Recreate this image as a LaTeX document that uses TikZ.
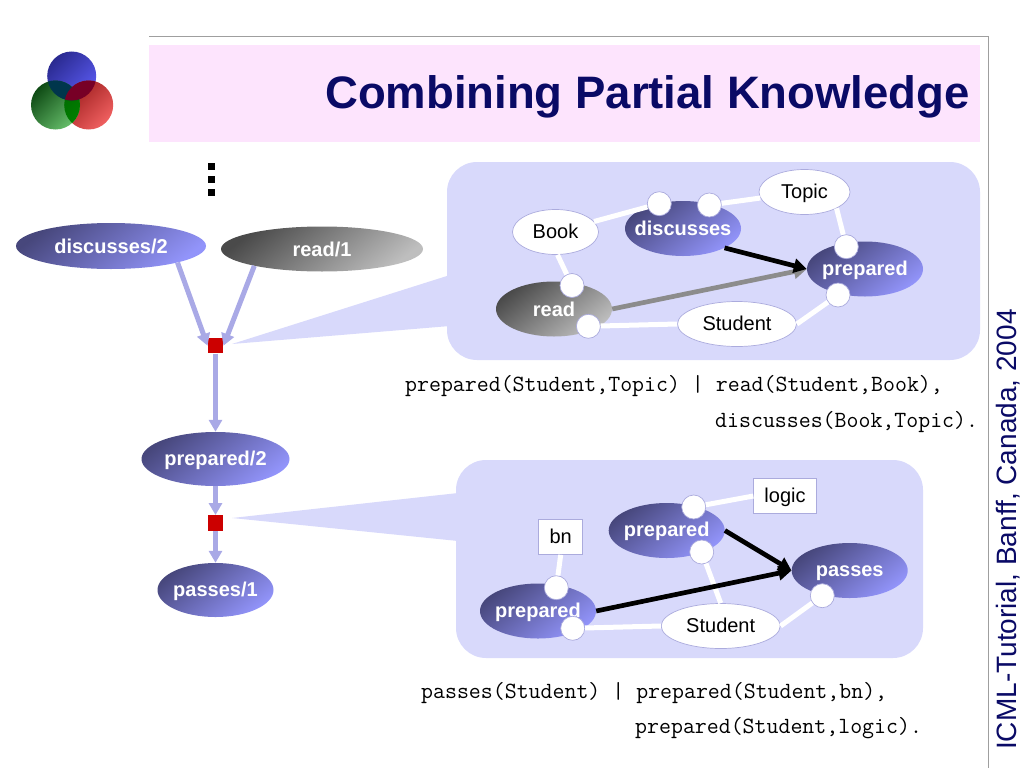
\documentclass[tikz,border=0pt]{standalone}
\usepackage{fontspec}
\setmainfont{Liberation Sans}
\usetikzlibrary{shapes.geometric,arrows.meta}
\definecolor{navytext}{HTML}{0A0A66}
\definecolor{pinkband}{HTML}{FDE4FD}
\definecolor{panelblue}{HTML}{D8D9FB}
\definecolor{edgeblue}{HTML}{A9A9E6}
\definecolor{outlineblue}{HTML}{ABABDD}
\definecolor{predark}{HTML}{47477C}
\definecolor{prelight}{HTML}{9294FA}
\definecolor{greydark}{HTML}{4A4A4A}
\definecolor{greylight}{HTML}{BEBEBE}
\definecolor{joinred}{HTML}{CC0000}
\definecolor{logoba}{HTML}{2A2A90}\definecolor{logobb}{HTML}{5A5AF0}
\definecolor{logora}{HTML}{9A1C1C}\definecolor{logorb}{HTML}{F06060}
\definecolor{logoga}{HTML}{0E4A14}\definecolor{logogb}{HTML}{66BE6A}
\newcommand{\zw}[1]{\makebox[0pt]{#1}}
\tikzset{
  lab/.style={font=\fontsize{20}{24}\selectfont,text height=14pt,text depth=2pt},
  pred/.style={ellipse,inner sep=0pt,shade,left color=predark,right color=prelight,shading angle=38,text=white,font=\fontsize{20}{24}\selectfont\bfseries,text height=14pt,text depth=2pt},
  gpred/.style={pred,left color=greydark,right color=greylight,shading angle=38},
  var/.style={ellipse,draw=outlineblue,line width=0.7pt,fill=white,inner sep=0pt,lab},
  const/.style={rectangle,draw=outlineblue,line width=0.7pt,fill=white,inner sep=0pt,minimum height=35pt,lab},
  port/.style={circle,draw=outlineblue,line width=0.7pt,fill=white,inner sep=0pt,minimum size=24pt},
  joinbox/.style={rectangle,fill=joinred,inner sep=0pt,minimum size=15.5pt},
  dotbox/.style={rectangle,fill=black,inner sep=0pt,minimum size=7pt},
  panel/.style={rectangle,rounded corners=30pt,fill=panelblue,inner sep=0pt},
  flow/.style={edgeblue,line width=5pt,-{Triangle[width=13pt,length=12pt]}},
  link/.style={white,line width=5pt},
  dep/.style={line width=4.7pt,-{Triangle[width=14pt,length=13pt]}},
  code/.style={anchor=base west,inner sep=0pt,font=\fontsize{23.2}{26}\selectfont\ttfamily},
  logo/.style={shading angle=45}
}
\begin{document}
\begin{tikzpicture}[x=1pt,y=-1pt]
  \useasboundingbox (0,0) rectangle (1024,768);
  % slide frame
  \fill[pinkband] (149,45) rectangle (980,142);
  \draw[gray!75,line width=1pt] (149,37) -- (988,37) -- (988,768);
  \node[anchor=base east,inner sep=0pt,text=navytext,font=\fontsize{45.5}{50}\selectfont\bfseries] (title) at (970,108.5) {Combining Partial Knowledge};
  \node[anchor=base west,rotate=90,inner sep=0pt,text=navytext,font=\fontsize{28}{32}\selectfont] (side) at (1016,750) {ICML-Tutorial, Banff, Canada, 2004};
  % logo
  \def\rad{24.5pt}
  \shade[left color=logoba,right color=logobb,logo] (71.7,76) circle (\rad);
  \shade[left color=logora,right color=logorb,logo] (88.7,105) circle (\rad);
  \shade[left color=logoga,right color=logogb,logo] (55.5,105) circle (\rad);
  \begin{scope}
    \clip (88.7,105) circle (\rad);
    \shade[left color=green!35!black,right color=green!50!black,logo] (55.5,105) circle (\rad);
  \end{scope}
  \begin{scope}
    \clip (71.7,76) circle (\rad);
    \fill[green!30!black!70!blue] (55.5,105) circle (\rad);
    \fill[red!55!black!85!blue] (88.7,105) circle (\rad);
  \end{scope}
  \foreach \i/\y in {1/166.5,2/179.5,3/192.5} {
    \node[dotbox] (dot\i) at (211.5,\y) {};
  }
  % callouts
  \fill[panelblue] (232,344) -- (450,275) -- (450,326) -- cycle;
  \fill[panelblue] (232,518) -- (458,493) -- (458,541) -- cycle;
  \node[panel,minimum width=533pt,minimum height=198pt] (panela) at (713.5,261) {};
  \node[panel,minimum width=467pt,minimum height=198pt] (panelb) at (689.5,559) {};
  % left graph
  \node[pred,text depth=0pt,minimum width=190pt,minimum height=46pt] (discusses) at (111,246) {\zw{discusses/2}};
  \node[gpred,text depth=0pt,minimum width=202pt,minimum height=45pt] (read) at (322,249) {\zw{read/1}};
  \node[joinbox] (joina) at (215.5,345.7) {};
  \node[pred,minimum width=148pt,minimum height=54pt] (prepared) at (215.5,459) {\zw{prepared/2}};
  \node[joinbox] (joinb) at (215.5,523) {};
  \node[pred,minimum width=116pt,minimum height=54pt] (passes) at (215.5,590) {\zw{passes/1}};
  \draw[flow] (discusses.-14.5) -- (joina.west);
  \draw[flow] (read.-166.5) -- (joina.east);
  \draw[flow] (joina.south) -- (prepared.north);
  \draw[flow] (prepared.south) -- (joinb.north);
  \draw[flow] (joinb.south) -- (passes.north);
  % upper clause
  \node[var,minimum width=86pt,minimum height=45pt] (book) at (555.5,232) {\zw{Book}};
  \node[var,minimum width=91pt,minimum height=45pt] (topic) at (804.5,192) {\zw{Topic}};
  \node[var,minimum width=119pt,minimum height=45pt] (student) at (737,324) {\zw{Student}};
  \node[pred,text depth=0pt,minimum width=116pt,minimum height=55pt] (disc) at (683,228.5) {\zw{discusses}};
  \node[pred,minimum width=116pt,minimum height=55pt] (prep) at (865,269) {\zw{prepared}};
  \node[gpred,text depth=0pt,minimum width=116pt,minimum height=55pt] (rd) at (554,309) {\zw{read}};
  \node[port] (discl) at (659.3,203.7) {};
  \node[port] (discr) at (709.4,205) {};
  \node[port] (prept) at (846.3,246.7) {};
  \node[port] (prepb) at (838,295) {};
  \node[port] (rdt) at (572,285.5) {};
  \node[port] (rdb) at (588.4,326.3) {};
  \draw[link] (book) -- (discl);
  \draw[link] (discr) -- (topic);
  \draw[link] (topic.-27) -- (prept);
  \draw[link] (book.-85) -- (rdt);
  \draw[link] (rdb) -- (student.west);
  \draw[link] (student.east) -- (prepb);
  \draw[dep,color=gray!90] (rd.east) -- (prep.west);
  \draw[dep] (disc.-25) -- (prep.west);
  \node[code] (codea) at (405,391) {prepared(Student,Topic) | read(Student,Book),};
  \node[code] (codeb) at (715,427) {discusses(Book,Topic).};
  % lower clause
  \node[const,minimum width=44pt] (bn) at (560.7,537) {\zw{bn}};
  \node[const,minimum width=62.6pt] (logic) at (785,496) {\zw{logic}};
  \node[var,minimum width=119pt,minimum height=45pt] (studentb) at (720.7,626) {\zw{Student}};
  \node[pred,minimum width=116pt,minimum height=55pt] (prepu) at (666.7,530.5) {\zw{prepared}};
  \node[pred,minimum width=116pt,minimum height=55pt] (prepl) at (538,611) {\zw{prepared}};
  \node[pred,minimum width=116pt,minimum height=55pt] (pass) at (849.7,570.5) {\zw{passes}};
  \node[port] (prepua) at (693.7,507) {};
  \node[port] (prepub) at (701.7,552) {};
  \node[port] (prepla) at (556.3,587.7) {};
  \node[port] (preplb) at (572.7,628.3) {};
  \node[port] (passa) at (822.3,595.7) {};
  \draw[link] (prepua) -- (logic.west);
  \draw[link] (prepub) -- (studentb.north);
  \draw[link] (bn.south) -- (prepla);
  \draw[link] (preplb) -- (studentb.west);
  \draw[link] (studentb.east) -- (passa);
  \draw[dep] (prepu.east) -- (pass.west);
  \draw[dep] (prepl.east) -- (pass.west);
  \node[code] (codec) at (421,698) {passes(Student) | prepared(Student,bn),};
  \node[code] (coded) at (635,733) {prepared(Student,logic).};
\end{tikzpicture}
\end{document}
